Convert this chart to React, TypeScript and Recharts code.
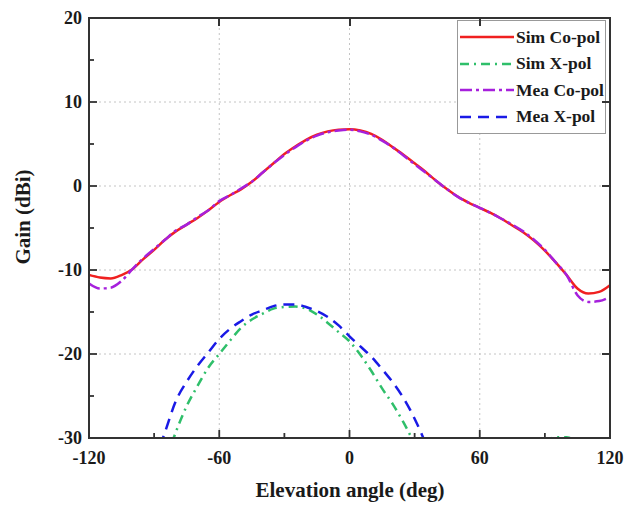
import React from 'react';
import {
  LineChart,
  Line,
  XAxis,
  YAxis,
  CartesianGrid,
  Legend,
  Label,
} from 'recharts';

const angles = [
  -120, -115, -110, -105, -100, -95, -90, -85, -80, -75, -70, -65, -60, -55, -50, -45, -40,
  -35, -30, -25, -20, -15, -10, -5, 0, 5, 10, 15, 20, 25, 30, 35, 40, 45, 50, 55, 60, 65,
  70, 75, 80, 85, 90, 95, 100, 105, 110, 115, 120,
];

const simCoPol = [
  -10.6, -10.9, -11.0, -10.6, -9.9, -8.7, -7.6, -6.4, -5.4, -4.6, -3.8, -2.9, -1.9, -1.1, -0.4, 0.5, 1.6,
  2.7, 3.8, 4.7, 5.5, 6.1, 6.5, 6.7, 6.75, 6.6, 6.2, 5.5, 4.6, 3.7, 2.7, 1.7, 0.6, -0.4, -1.3, -2.0, -2.6, -3.2,
  -3.9, -4.7, -5.5, -6.5, -7.7, -9.1, -10.6, -12.2, -12.8, -12.6, -11.8,
];

const simXPol = [
  null, null, null, null, null, null, null, -33.0, -29.3, -26.2, -23.8, -21.6, -20.0, -18.4, -16.9, -15.9, -15.2,
  -14.6, -14.4, -14.35, -14.6, -15.3, -16.3, -17.4, -18.5, -20.1, -22.0, -24.1, -26.0, -28.2, -30.7, null, null, null, null, null, null, null,
  null, null, null, null, -30.6, -29.9, -29.9, -30.6, null, null, null,
];

const meaCoPol = [
  -11.6, -12.2, -12.1, -11.3, -9.9, -8.6, -7.5, -6.4, -5.3, -4.6, -3.7, -2.9, -1.8, -1.1, -0.3, 0.5, 1.6,
  2.7, 3.7, 4.6, 5.4, 6.0, 6.4, 6.6, 6.7, 6.5, 6.1, 5.4, 4.6, 3.6, 2.6, 1.6, 0.6, -0.4, -1.3, -2.0, -2.6, -3.2,
  -3.9, -4.6, -5.4, -6.4, -7.6, -9.1, -10.6, -13.0, -13.8, -13.7, -13.2,
];

const meaXPol = [
  null, null, null, null, null, null, -33.0, -29.3, -25.6, -23.3, -21.4, -19.8, -18.2, -17.0, -16.1, -15.3, -14.8,
  -14.3, -14.1, -14.1, -14.4, -14.9, -15.6, -16.6, -17.9, -19.1, -20.3, -21.8, -23.4, -25.3, -27.7, -30.6, null, null, null, null, null, null,
  null, null, null, null, null, null, null, null, null, null, null,
];

const xTicks = [-120, -90, -60, -30, 0, 30, 60, 90, 120];
const yTicks = [-30, -25, -20, -15, -10, -5, 0, 5, 10, 15, 20];
const topTicks = [-60, 0, 60];
const rightTicks = [-20, -10, 0, 10];

const data = angles.map((a, i) => ({
  angle: a,
  simCo: simCoPol[i],
  simX: simXPol[i],
  meaCo: meaCoPol[i],
  meaX: meaXPol[i],
}));

const series = [
  { key: 'simCo', name: 'Sim Co-pol', color: '#f02020', dash: undefined as string | undefined },
  { key: 'simX', name: 'Sim X-pol', color: '#2fbf6a', dash: '9 5 2 5' },
  { key: 'meaCo', name: 'Mea Co-pol', color: '#a620dc', dash: '12 4 3 4' },
  { key: 'meaX', name: 'Mea X-pol', color: '#1a1ae6', dash: '11 7' },
];

// chart geometry
const W = 637;
const H = 505;
const margin = { top: 18, right: 27, bottom: 37, left: 29 };
const yAxisW = 60;
const xAxisH = 30;
const plotX = margin.left + yAxisW;
const plotY = margin.top;
const plotW = W - margin.left - margin.right - yAxisW;
const plotH = H - margin.top - margin.bottom - xAxisH;

const axisColor = '#333';
const font = { fontFamily: '"Liberation Serif", "Times New Roman", serif', fontWeight: 700 };

function BottomTick({ x, y, payload }: any) {
  const major = payload.value % 60 === 0;
  return (
    <g>
      <line x1={x} x2={x} y1={y} y2={y - (major ? 8 : 5)} stroke={axisColor} strokeWidth={1.8} />
      {major && (
        <text x={x} y={y + 26} textAnchor="middle" fontSize={18} fill="#1a1a1a" style={font}>
          {payload.value}
        </text>
      )}
    </g>
  );
}

function LeftTick({ x, y, payload }: any) {
  const major = payload.value % 10 === 0;
  return (
    <g>
      <line x1={x} x2={x + (major ? 8 : 5)} y1={y} y2={y} stroke={axisColor} strokeWidth={1.8} />
      {major && (
        <text x={x - 7} y={y + 6} textAnchor="end" fontSize={18} fill="#1a1a1a" style={font}>
          {payload.value}
        </text>
      )}
    </g>
  );
}

// top / right frame with inward ticks, laid over the plot area
function Frame() {
  const px = (v: number) => plotX + ((v + 120) / 240) * plotW;
  const py = (v: number) => plotY + ((20 - v) / 50) * plotH;
  return (
    <div style={{ position: 'absolute', left: 0, top: 0, width: W, height: H, pointerEvents: 'none', zIndex: 5 }}>
      <div
        style={{
          position: 'absolute',
          left: plotX - 1,
          top: plotY - 1,
          width: plotW + 2,
          height: plotH + 2,
          border: `2px solid ${axisColor}`,
          boxSizing: 'border-box',
        }}
      />
      {topTicks.map((v) => (
        <div
          key={`t${v}`}
          style={{ position: 'absolute', left: px(v) - 1, top: plotY, width: 2, height: 8, background: axisColor }}
        />
      ))}
      {rightTicks.map((v) => (
        <div
          key={`r${v}`}
          style={{ position: 'absolute', left: plotX + plotW - 8, top: py(v) - 1, width: 8, height: 2, background: axisColor }}
        />
      ))}
    </div>
  );
}

function LegendBox() {
  return (
    <div
      style={{
        background: '#fff',
        border: '1px solid #999',
        padding: '3px 0 3px 2px',
        width: 149,
        boxSizing: 'border-box',
      }}
    >
      {series.map((s) => (
        <div key={s.key} style={{ display: 'flex', alignItems: 'center', height: 26.5 }}>
          <svg width={54} height={10}>
            <line x1={0} x2={54} y1={5} y2={5} stroke={s.color} strokeWidth={2.5} strokeDasharray={s.dash} />
          </svg>
          <span style={{ ...font, fontSize: 17.5, color: '#1a1a1a', marginLeft: 2, whiteSpace: 'nowrap' }}>{s.name}</span>
        </div>
      ))}
    </div>
  );
}

export default function App() {
  return (
    <div style={{ position: 'absolute', left: 0, top: 0, width: W, height: H, background: '#fff' }}>
      <LineChart width={W} height={H} data={data} margin={margin}>
        <CartesianGrid
          stroke="#c4c4c4"
          strokeDasharray="2 3"
          horizontalValues={[-20, -10, 0, 10]}
          verticalValues={[-60, 0, 60]}
        />
        <XAxis
          dataKey="angle"
          type="number"
          domain={[-120, 120]}
          ticks={xTicks}
          interval={0}
          allowDataOverflow
          height={xAxisH}
          tickSize={0}
          tickMargin={0}
          tick={<BottomTick />}
          stroke={axisColor}
          strokeWidth={1.8}
        >
          <Label
            content={() => (
              <text x={350} y={497} textAnchor="middle" fontSize={21} fill="#1a1a1a" style={font}>
                Elevation angle (deg)
              </text>
            )}
          />
        </XAxis>
        <YAxis
          type="number"
          domain={[-30, 20]}
          ticks={yTicks}
          interval={0}
          allowDataOverflow
          width={yAxisW}
          tickSize={0}
          tickMargin={0}
          tick={<LeftTick />}
          stroke={axisColor}
          strokeWidth={1.8}
        >
          <Label
            content={() => (
              <text
                x={30}
                y={217}
                transform="rotate(-90 30 217)"
                textAnchor="middle"
                fontSize={21}
                fill="#1a1a1a"
                style={font}
              >
                Gain (dBi)
              </text>
            )}
          />
        </YAxis>
        <Legend
          layout="vertical"
          align="center"
          verticalAlign="middle"
          wrapperStyle={{ left: 457, top: 20, width: 150, height: 'auto' }}
          content={() => <LegendBox />}
        />
        {series.map((s) => (
          <Line
            key={s.key}
            dataKey={s.key}
            name={s.name}
            type="monotone"
            stroke={s.color}
            strokeWidth={2.5}
            strokeDasharray={s.dash}
            dot={false}
            activeDot={false}
            isAnimationActive={false}
          />
        ))}
      </LineChart>
      <Frame />
    </div>
  );
}
